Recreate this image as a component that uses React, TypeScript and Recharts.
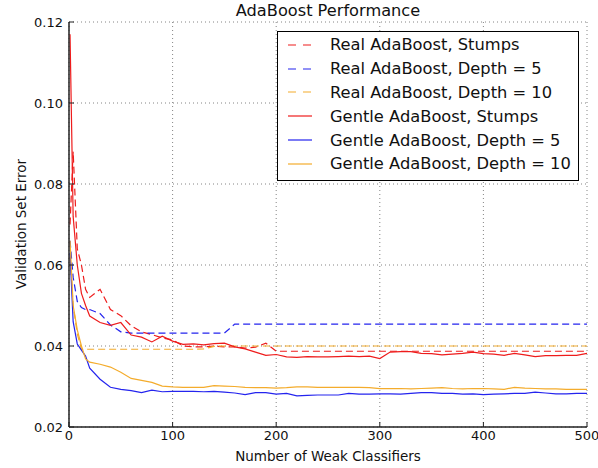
import { LineChart, Line, XAxis, YAxis, CartesianGrid, Legend, Label } from 'recharts';

const iterations = [
    1, 4, 8, 12, 16, 20,
    30, 40, 50, 60, 70, 80, 90, 100,
    110, 120, 130, 140, 150, 160, 170, 180, 190, 200,
    210, 220, 230, 240, 250, 260, 270, 280, 290, 300,
    310, 320, 330, 340, 350, 360, 370, 380, 390, 400,
    410, 420, 430, 440, 450, 460, 470, 480, 490, 500,
];

const realStumps = [
    0.070, 0.088, 0.064, 0.060, 0.054, 0.052,
    0.054, 0.049, 0.0475, 0.045, 0.0435, 0.0428, 0.042, 0.0415,
    0.040, 0.0398, 0.0398, 0.040, 0.0398, 0.0398, 0.0395, 0.0397, 0.0407, 0.0387,
    0.0387, 0.0387, 0.0387, 0.0387, 0.0387, 0.0387, 0.0387, 0.0387, 0.0387, 0.0387,
    0.0387, 0.0387, 0.0387, 0.0387, 0.0387, 0.0387, 0.0387, 0.0387, 0.0387, 0.0387,
    0.0387, 0.0387, 0.0387, 0.0387, 0.0387, 0.0387, 0.0387, 0.0387, 0.0387, 0.0387,
];

const realDepth5 = [
    0.066, 0.057, 0.051, 0.0495, 0.049, 0.049,
    0.048, 0.0452, 0.0435, 0.0432, 0.0432, 0.0432, 0.0432, 0.0432,
    0.0432, 0.0432, 0.0432, 0.0432, 0.0432, 0.0454, 0.0454, 0.0454, 0.0454, 0.0454,
    0.0454, 0.0454, 0.0454, 0.0454, 0.0454, 0.0454, 0.0454, 0.0454, 0.0454, 0.0454,
    0.0454, 0.0454, 0.0454, 0.0454, 0.0454, 0.0454, 0.0454, 0.0454, 0.0454, 0.0454,
    0.0454, 0.0454, 0.0454, 0.0454, 0.0454, 0.0454, 0.0454, 0.0454, 0.0454, 0.0454,
];

const realDepth10 = [
    0.062, 0.050, 0.043, 0.0392, 0.0392, 0.0392,
    0.0392, 0.0392, 0.0392, 0.0392, 0.0392, 0.0392, 0.0392, 0.0392,
    0.0392, 0.0392, 0.0393, 0.0399, 0.040, 0.040, 0.040, 0.040, 0.040, 0.040,
    0.040, 0.040, 0.040, 0.040, 0.040, 0.040, 0.040, 0.040, 0.040, 0.040,
    0.040, 0.040, 0.040, 0.040, 0.040, 0.040, 0.040, 0.040, 0.040, 0.040,
    0.040, 0.040, 0.040, 0.040, 0.040, 0.040, 0.040, 0.040, 0.040, 0.040,
];

const gentleStumps = [
    0.117, 0.072, 0.060, 0.053, 0.050, 0.0474,
    0.0458, 0.0451, 0.0458, 0.0427, 0.0422, 0.041, 0.0424, 0.0412,
    0.0404, 0.0405, 0.0403, 0.0406, 0.0407, 0.0398, 0.0393, 0.0385, 0.0377, 0.0379,
    0.0373, 0.0372, 0.0374, 0.0373, 0.0373, 0.0374, 0.0375, 0.0374, 0.0375, 0.0369,
    0.0385, 0.0386, 0.0386, 0.0382, 0.0381, 0.0378, 0.038, 0.0382, 0.0385, 0.0381,
    0.038, 0.0377, 0.0382, 0.0378, 0.0374, 0.0376, 0.0376, 0.0377, 0.0377, 0.0382,
];

const gentleDepth5 = [
    0.063, 0.046, 0.0405, 0.039, 0.0375, 0.0345,
    0.0318, 0.0298, 0.0293, 0.029, 0.0285, 0.0291, 0.0287, 0.0288,
    0.0288, 0.0288, 0.0287, 0.0288, 0.0286, 0.0284, 0.028, 0.0285, 0.0285, 0.0281,
    0.0283, 0.0277, 0.0278, 0.0279, 0.0279, 0.0279, 0.0283, 0.0281, 0.0281, 0.0282,
    0.0282, 0.0281, 0.0283, 0.0285, 0.0285, 0.0283, 0.0283, 0.0281, 0.0282, 0.028,
    0.0281, 0.0282, 0.0283, 0.0283, 0.0286, 0.0284, 0.0282, 0.0282, 0.0283, 0.0283,
];

const gentleDepth10 = [
    0.066, 0.050, 0.044, 0.040, 0.0368, 0.036,
    0.0355, 0.0348, 0.0335, 0.032, 0.0315, 0.031, 0.0301, 0.0299,
    0.0298, 0.0298, 0.0298, 0.0302, 0.0301, 0.030, 0.0298, 0.0297, 0.0297, 0.0296,
    0.0297, 0.0299, 0.0299, 0.0298, 0.0298, 0.0298, 0.0298, 0.0298, 0.0297, 0.0295,
    0.0295, 0.0295, 0.0294, 0.0295, 0.0296, 0.0297, 0.0295, 0.0294, 0.0295, 0.0295,
    0.0294, 0.0293, 0.0298, 0.0296, 0.0295, 0.0294, 0.0294, 0.0293, 0.0293, 0.0293,
];

const xTicks = [0, 100, 200, 300, 400, 500];
const yTicks = [0.02, 0.04, 0.06, 0.08, 0.10, 0.12];

const RED = '#ee1c1c';
const BLUE = '#2424ee';
const ORANGE = '#f4ac2c';
const FONT = '"DejaVu Sans", sans-serif';

const series = [
    { key: 'realStumps', name: 'Real AdaBoost, Stumps', color: RED, dashed: true },
    { key: 'realDepth5', name: 'Real AdaBoost, Depth = 5', color: BLUE, dashed: true },
    { key: 'realDepth10', name: 'Real AdaBoost, Depth = 10', color: ORANGE, dashed: true },
    { key: 'gentleStumps', name: 'Gentle AdaBoost, Stumps', color: RED, dashed: false },
    { key: 'gentleDepth5', name: 'Gentle AdaBoost, Depth = 5', color: BLUE, dashed: false },
    { key: 'gentleDepth10', name: 'Gentle AdaBoost, Depth = 10', color: ORANGE, dashed: false },
];

const data = iterations.map((it, i) => ({
    it,
    realStumps: realStumps[i],
    realDepth5: realDepth5[i],
    realDepth10: realDepth10[i],
    gentleStumps: gentleStumps[i],
    gentleDepth5: gentleDepth5[i],
    gentleDepth10: gentleDepth10[i],
}));

function LegendBox() {
    return (
        <div style={{ border: '1px solid #000', background: '#fff', padding: '1px 0 4px 0', fontFamily: FONT, fontSize: 16.3, color: '#111' }}>
            {series.map(s => (
                <div key={s.key} style={{ display: 'flex', alignItems: 'center', height: 23.8, whiteSpace: 'nowrap' }}>
                    <svg width={52} height={10} style={{ flex: 'none' }}>
                        <line x1={10} y1={5} x2={34} y2={5} stroke={s.color} strokeWidth={1.2}
                            strokeDasharray={s.dashed ? '8 7' : undefined} />
                    </svg>
                    <span>{s.name}</span>
                </div>
            ))}
        </div>
    );
}

export default function App() {
    const tickStyle = { fontSize: 13, fill: '#111', fontFamily: FONT };
    return (
        <div style={{ position: 'relative', width: 598, height: 468, background: '#fff' }}>
            <style>{'body{margin:0}'}</style>
            <div style={{ position: 'absolute', left: 69, width: 518, top: 1, textAlign: 'center', fontFamily: FONT, fontSize: 16.2, lineHeight: '20px', color: '#111' }}>
                AdaBoost Performance
            </div>
            <LineChart width={598} height={468} data={data} margin={{ top: 22, right: 11, bottom: 11, left: 9 }}>
                <CartesianGrid stroke="#666" strokeDasharray="1 3" strokeWidth={0.8} />
                <XAxis dataKey="it" type="number" domain={[0, 500]} ticks={xTicks} height={30}
                    tick={tickStyle} tickSize={-5} tickMargin={9} stroke="#222"
                    axisLine={{ stroke: '#222', strokeWidth: 1.5 }} tickLine={{ stroke: '#222' }}>
                    <Label value="Number of Weak Classifiers" position="insideBottom" offset={-4}
                        style={{ fontSize: 13.5, fill: '#111', fontFamily: FONT }} />
                </XAxis>
                <XAxis xAxisId="top" orientation="top" type="number" domain={[0, 500]} ticks={xTicks} height={0}
                    tick={false} tickSize={-5} axisLine={{ stroke: '#222', strokeWidth: 1.5 }} tickLine={{ stroke: '#222' }} />
                <YAxis type="number" domain={[0.02, 0.12]} ticks={yTicks} width={60}
                    tickFormatter={(v: number) => v.toFixed(2)} tick={tickStyle} tickSize={-5} tickMargin={11}
                    axisLine={{ stroke: '#222', strokeWidth: 1.5 }} tickLine={{ stroke: '#222' }}
                    label={() => (
                        <text x={21} y={224} transform="rotate(-90 21 224)" textAnchor="middle" dominantBaseline="central"
                            style={{ fontSize: 13.5, fill: '#111', fontFamily: FONT }}>
                            Validation Set Error
                        </text>
                    )} />
                <YAxis yAxisId="right" orientation="right" type="number" domain={[0.02, 0.12]} ticks={yTicks} width={0}
                    tick={false} tickSize={-5} axisLine={{ stroke: '#222', strokeWidth: 1.5 }} tickLine={{ stroke: '#222' }} />
                <Legend layout="vertical" align="center" verticalAlign="middle"
                    wrapperStyle={{ top: 31, left: 277, width: 302, height: 'auto' }}
                    content={() => <LegendBox />} />
                {series.map(s => (
                    <Line key={s.key} dataKey={s.key} name={s.name} type="linear" stroke={s.color}
                        strokeWidth={1.2} strokeDasharray={s.dashed ? '7 4' : undefined}
                        dot={false} activeDot={false} isAnimationActive={false} />
                ))}
            </LineChart>
        </div>
    );
}
